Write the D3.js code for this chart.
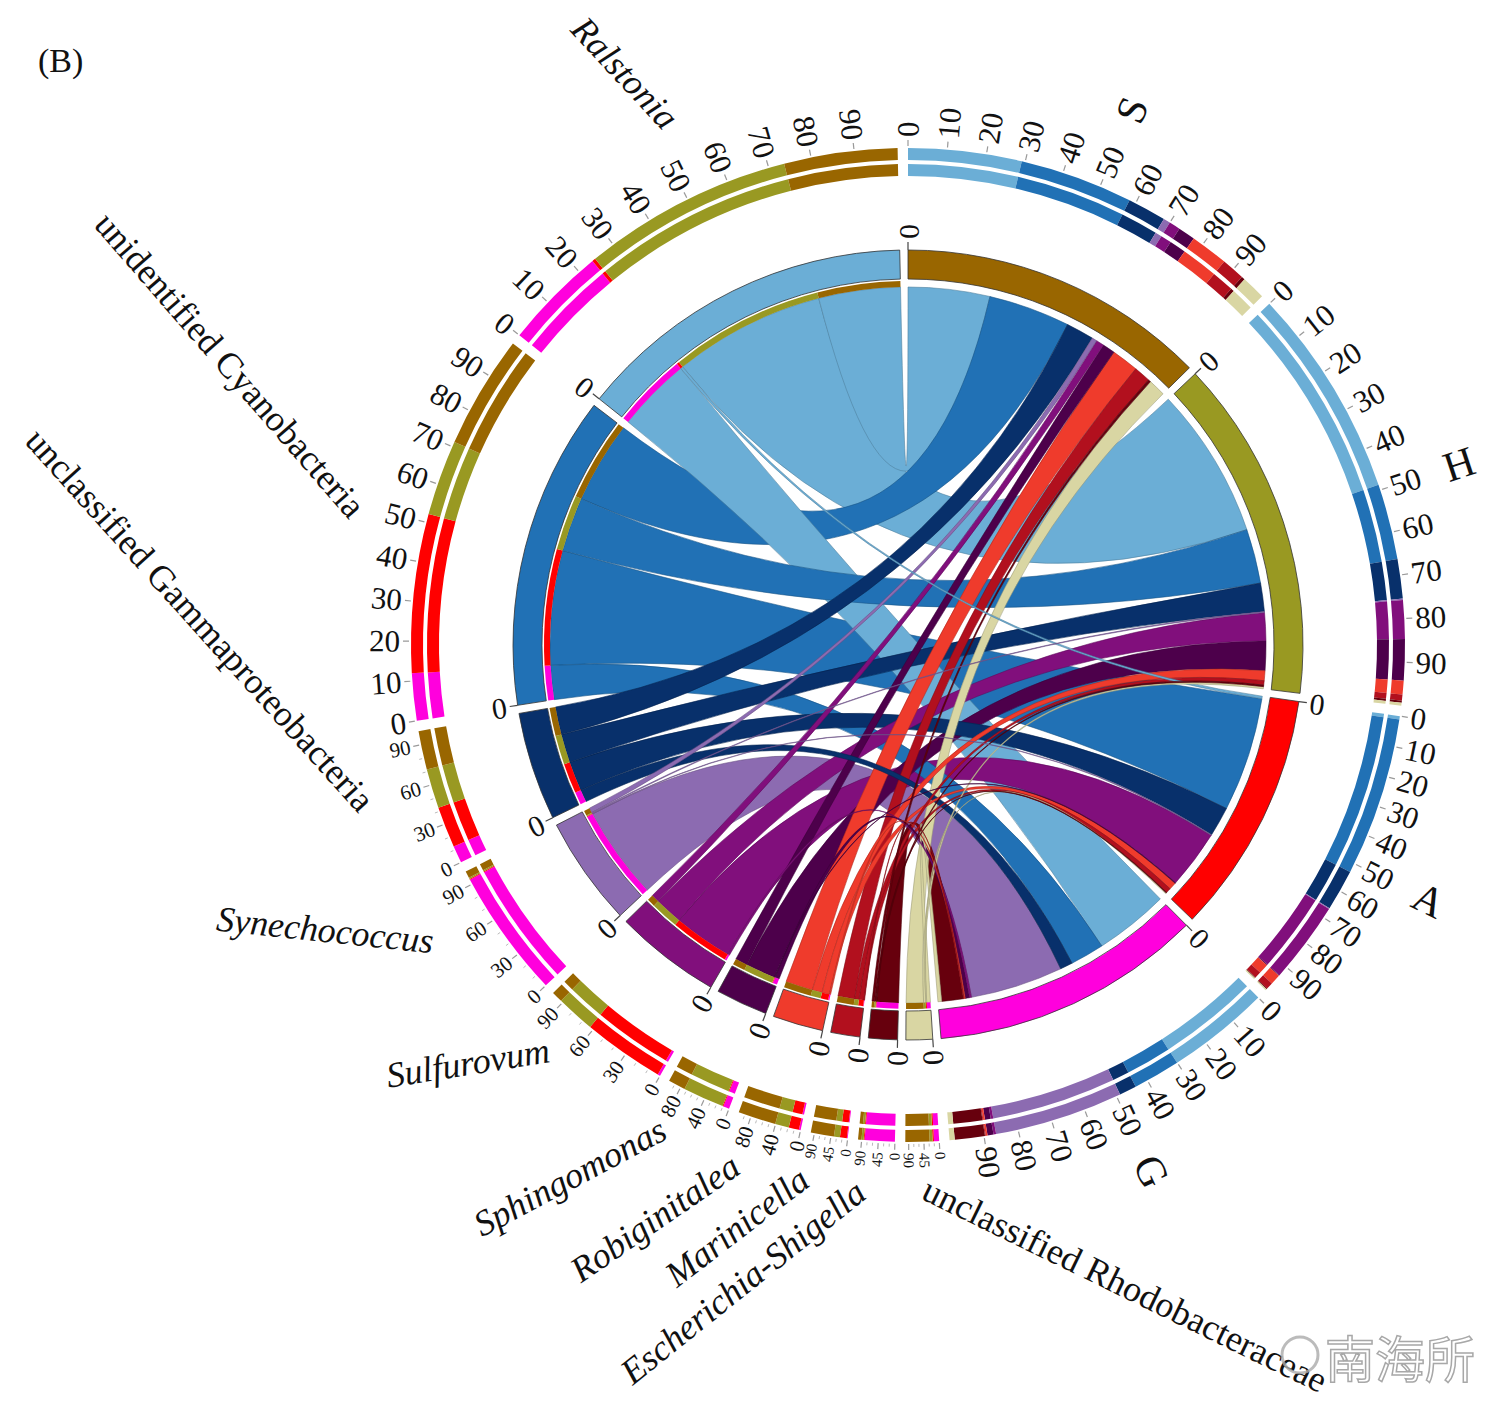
<!DOCTYPE html>
<html>
<head>
<meta charset="utf-8">
<script src="https://cdn.jsdelivr.net/npm/d3@7"></script>
<style>
  body { margin: 0; background: #fff; }
  text { font-family: "Liberation Serif", "Times New Roman", serif; fill: #111; }
</style>
</head>
<body>
<svg id="chart" width="1500" height="1410"></svg>
<script>
// samples (right half) and genera (left half)
const samples = ["S", "H", "A", "G"];
const sampleColors = ["#996600", "#999922", "#ff0000", "#ff00dd"];

const genera = ["Ralstonia", "unidentified Cyanobacteria", "unclassified Gammaproteobacteria",
  "Synechococcus", "Sulfurovum", "Sphingomonas", "Robiginitalea", "Marinicella",
  "Escherichia-Shigella", "unclassified Rhodobacteraceae"];
const genusColors = ["#6baed6", "#2171b5", "#08306b", "#8c6bb1", "#810f7c", "#4d004b",
  "#ef3b2c", "#b2101e", "#67000d", "#d9d6a3"];
const italicName = [true, false, false, true, true, true, true, true, true, false];

// abundance of each genus in each sample (rows S, H, A, G)
const flows = [
  [13.2, 13.2, 4.5, 0.8, 1.3, 2.0, 4.4, 2.7, 0.4, 2.8],
  [24.5, 8.8, 4.6, 0.15, 4.5, 4.8, 1.6, 0.7, 0.25, 0.35],
  [0.4, 18.5, 4.8, 0.1, 9.5, 0.1, 1.2, 0.8, 0.1, 0.15],
  [12.0, 5.5, 2.0, 15.0, 0.3, 0.7, 0.2, 0.1, 3.5, 0.6]
];

// hand placed genus names: [x, y, rotation]
const nameLayout = [
  [625, 73, 47], [230, 365, 49], [200, 620, 48], [325, 930, 6], [468, 1063, -9],
  [570, 1177, -28], [655, 1218, -34.5], [737, 1227, -37.6], [743, 1282, -38.7], [1125, 1285, 26]
];

const svg = d3.select("#chart");
const cx = 908, cy = 645;
const rChord = 358, rBand0 = 366, rBand1 = 395;
const tIn = [469, 481], tOut = [485, 497];

const sampleTotals = flows.map(r => d3.sum(r));
const genusTotals = genera.map((_, j) => d3.sum(flows, r => r[j]));
const grand = d3.sum(sampleTotals);
const gap = 1.2 * Math.PI / 180;
const nSec = samples.length + genera.length;
const k = (2 * Math.PI - nSec * gap) / (2 * grand);

//building the sectors clockwise from 12 o'clock
const sectors = [];
samples.forEach((name, i) => sectors.push({name: name, kind: "sample", i: i, total: sampleTotals[i], color: sampleColors[i]}));
for (let j = genera.length - 1; j >= 0; j--) {
  sectors.push({name: genera[j], kind: "genus", i: j, total: genusTotals[j], color: genusColors[j]});
}
let ang = 0;
sectors.forEach(s => {
  s.start = ang;
  s.end = ang + s.total * k;
  ang = s.end + gap;
});

//pieces of each sector, one per partner
const ends = {};
sectors.forEach(s => {
  let t = s.start;
  s.pieces = [];
  if (s.kind === "sample") {
    genera.forEach((gn, j) => {
      const v = flows[s.i][j];
      if (v <= 0) return;
      const p = {a0: t, a1: t + v * k, color: genusColors[j]};
      s.pieces.push(p);
      ends["s" + s.i + "_" + j] = p;
      t += v * k;
    });
  } else {
    for (let i = samples.length - 1; i >= 0; i--) {
      const v = flows[i][s.i];
      if (v <= 0) continue;
      const p = {a0: t, a1: t + v * k, color: sampleColors[i]};
      s.pieces.push(p);
      ends["g" + s.i + "_" + i] = p;
      t += v * k;
    }
  }
});

const g = svg.append("g").attr("transform", `translate(${cx},${cy})`);

//chords, big ones first
const chords = [];
flows.forEach((row, i) => row.forEach((v, j) => {
  if (v > 0) chords.push({v: v, j: j, src: ends["s" + i + "_" + j], tgt: ends["g" + j + "_" + i]});
}));
chords.sort((a, b) => b.v - a.v);

const ribbon = d3.ribbon().radius(rChord);
g.append("g").selectAll("path")
  .data(chords)
  .join("path")
  .attr("d", d => ribbon({
    source: {startAngle: d.src.a0, endAngle: d.src.a1},
    target: {startAngle: d.tgt.a0, endAngle: d.tgt.a1}
  }))
  .attr("fill", d => genusColors[d.j])
  .attr("stroke", d => d3.color(genusColors[d.j]).darker(0.9))
  .attr("stroke-width", 0.7)
  .attr("stroke-opacity", 0.8);

const arc = d3.arc();

//sample colour stripe at the genus end of each chord
sectors.filter(s => s.kind === "genus").forEach(s => {
  g.append("g").selectAll("path")
    .data(s.pieces)
    .join("path")
    .attr("d", p => arc({innerRadius: rChord, outerRadius: rChord + 6, startAngle: p.a0, endAngle: p.a1}))
    .attr("fill", p => p.color);
});

//the sector band
g.append("g").selectAll("path")
  .data(sectors)
  .join("path")
  .attr("d", s => arc({innerRadius: rBand0, outerRadius: rBand1, startAngle: s.start, endAngle: s.end}))
  .attr("fill", s => s.color)
  .attr("stroke", "#333")
  .attr("stroke-width", 0.8);

function polar(theta, r) {
  return [r * Math.sin(theta), -r * Math.cos(theta)];
}

function placeRadial(sel, theta, r) {
  const deg = theta * 180 / Math.PI;
  const [x, y] = polar(theta, r);
  const left = theta > Math.PI;
  sel.attr("transform", `translate(${x},${y}) rotate(${left ? deg + 90 : deg - 90})`)
    .attr("text-anchor", left ? "end" : "start")
    .attr("dominant-baseline", "central");
}

//"0" tick at the start of each sector
sectors.forEach(s => {
  const [x1, y1] = polar(s.start, rBand1);
  const [x2, y2] = polar(s.start, rBand1 + 8);
  g.append("line").attr("x1", x1).attr("y1", y1).attr("x2", x2).attr("y2", y2)
    .attr("stroke", "#444").attr("stroke-width", 1.2);
  g.append("text").text("0").attr("font-size", 30).call(placeRadial, s.start, rBand1 + 11);
});

//two outer percentage tracks
[tIn, tOut].forEach(tr => {
  sectors.forEach(s => {
    g.append("g").selectAll("path")
      .data(s.pieces)
      .join("path")
      .attr("d", p => arc({innerRadius: tr[0], outerRadius: tr[1], startAngle: p.a0, endAngle: p.a1}))
      .attr("fill", p => p.color);
  });
});

//percentage ticks
sectors.forEach(s => {
  const spanDeg = (s.end - s.start) * 180 / Math.PI;
  let step, fs, minor;
  if (spanDeg > 30) { step = 10; fs = 31; minor = 0; }
  else if (spanDeg > 14) { step = 30; fs = 21; minor = 10; }
  else if (spanDeg > 7) { step = 40; fs = 21; minor = 10; }
  else { step = 45; fs = 15; minor = 15; }
  const pos = p => s.start + p / 100 * (s.end - s.start);
  if (minor) {
    d3.range(0, 100, minor).filter(p => p % step !== 0).forEach(p => {
      const [x1, y1] = polar(pos(p), tOut[1] + 2);
      const [x2, y2] = polar(pos(p), tOut[1] + 5);
      g.append("line").attr("x1", x1).attr("y1", y1).attr("x2", x2).attr("y2", y2)
        .attr("stroke", "#bbb").attr("stroke-width", 1);
    });
  }
  d3.range(0, 100, step).forEach(p => {
    const [x1, y1] = polar(pos(p), tOut[1] + 2);
    const [x2, y2] = polar(pos(p), tOut[1] + 8);
    g.append("line").attr("x1", x1).attr("y1", y1).attr("x2", x2).attr("y2", y2)
      .attr("stroke", "#999").attr("stroke-width", 1.2);
    g.append("text").text(p).attr("font-size", fs).attr("fill", "#222")
      .call(placeRadial, pos(p), tOut[1] + 11);
  });
});

//sample letters
sectors.filter(s => s.kind === "sample").forEach(s => {
  const mid = (s.start + s.end) / 2;
  const [x, y] = polar(mid, 580);
  g.append("text").text(s.name)
    .attr("font-size", 42)
    .attr("text-anchor", "middle")
    .attr("dominant-baseline", "central")
    .attr("transform", `translate(${x},${y}) rotate(${mid * 180 / Math.PI - 90})`);
});

//genus names
genera.forEach((name, j) => {
  const [x, y, rot] = nameLayout[j];
  svg.append("text").text(name)
    .attr("font-size", 36)
    .attr("font-style", italicName[j] ? "italic" : "normal")
    .attr("text-anchor", "middle")
    .attr("dominant-baseline", "central")
    .attr("transform", `translate(${x},${y}) rotate(${rot})`);
});

//panel letter
svg.append("text").text("(B)").attr("x", 38).attr("y", 72).attr("font-size", 34);

//watermark
svg.append("circle").attr("cx", 1300).attr("cy", 1355).attr("r", 18)
  .attr("fill", "none").attr("stroke", "#aaa").attr("stroke-width", 3).attr("opacity", 0.8);
svg.append("text").text("南海所")
  .attr("x", 1325).attr("y", 1378)
  .attr("font-size", 50)
  .style("font-family", "'Noto Sans CJK SC', sans-serif")
  .style("fill", "#fff")
  .attr("stroke", "#999")
  .attr("stroke-width", 1.5)
  .attr("opacity", 0.85);
</script>
</body>
</html>
